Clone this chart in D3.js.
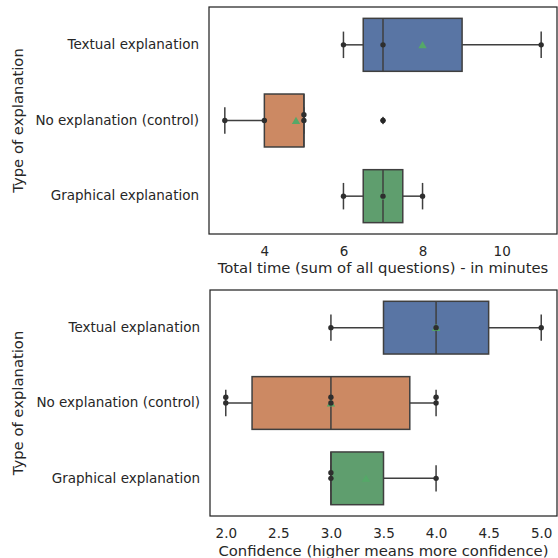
<!DOCTYPE html>
<html>
<head>
<meta charset="utf-8">
<script src="https://cdn.jsdelivr.net/npm/d3@7"></script>
<style>
  body { margin: 0; background: #fff; }
  text { font-family: "DejaVu Sans", sans-serif; fill: #262626; }
</style>
</head>
<body>
<svg id="chart" width="558" height="558"></svg>
<script>
const categories = ['Textual explanation', 'No explanation (control)', 'Graphical explanation'];
const boxColors = ['#5975a4', '#cc8963', '#5f9e6e'];

// raw answers per group
const timeValues = [[6, 7, 11], [3, 4, 5, 5, 7], [6, 7, 8]];
const confidenceValues = [[3, 4, 5], [2, 2, 3, 3, 4, 4], [3, 3, 4]];

const timeTicks = [4, 6, 8, 10];
const confidenceTicks = [2.0, 2.5, 3.0, 3.5, 4.0, 4.5, 5.0];

const timeLabel = 'Total time (sum of all questions) - in minutes';
const confidenceLabel = 'Confidence (higher means more confidence)';
const yLabel = 'Type of explanation';

const svg = d3.select('svg#chart');

const boxStats = values => {
  const v = values.slice().sort(d3.ascending);
  const q1 = d3.quantile(v, 0.25);
  const med = d3.quantile(v, 0.5);
  const q3 = d3.quantile(v, 0.75);
  const iqr = q3 - q1;
  const isIn = d => d >= q1 - 1.5 * iqr && d <= q3 + 1.5 * iqr;
  const inside = v.filter(isIn);
  return {
    q1, med, q3,
    lo: d3.min(inside),
    hi: d3.max(inside),
    mean: d3.mean(v),
    fliers: v.filter(d => !isIn(d))
  };
};

const drawPanel = ({ values, ticks, fmt, label, left, top, right, bottom, labelY }) => {
  const all = values.flat();
  const [mn, mx] = d3.extent(all);
  const pad = (mx - mn) * 0.05;
  const x = d3.scaleLinear().domain([mn - pad, mx + pad]).range([left, right]);
  const y = d3.scaleBand().domain(categories).range([top, bottom])
    .paddingInner(0.3).paddingOuter(0.15);
  const bw = y.bandwidth();
  const cy = c => y(c) + bw / 2;

  const g = svg.append('g');
  const rows = categories.map((c, i) => ({ c, i, s: boxStats(values[i]), v: values[i] }));

  // whiskers
  g.append('g')
    .selectAll('line')
    .data(rows.flatMap(r => [[r.s.lo, r.s.q1, r.c], [r.s.q3, r.s.hi, r.c]]))
    .enter()
    .append('line')
    .attr('x1', d => x(d[0]))
    .attr('x2', d => x(d[1]))
    .attr('y1', d => cy(d[2]))
    .attr('y2', d => cy(d[2]))
    .attr('stroke', '#3f3f3f')
    .attr('stroke-width', 1.5);

  // caps
  g.append('g')
    .selectAll('line')
    .data(rows.flatMap(r => [[r.s.lo, r.c], [r.s.hi, r.c]]))
    .enter()
    .append('line')
    .attr('x1', d => x(d[0]))
    .attr('x2', d => x(d[0]))
    .attr('y1', d => cy(d[1]) - bw / 4)
    .attr('y2', d => cy(d[1]) + bw / 4)
    .attr('stroke', '#3f3f3f')
    .attr('stroke-width', 1.5);

  // boxes
  g.append('g')
    .selectAll('rect')
    .data(rows)
    .enter()
    .append('rect')
    .attr('x', d => x(d.s.q1))
    .attr('width', d => x(d.s.q3) - x(d.s.q1))
    .attr('y', d => y(d.c))
    .attr('height', bw)
    .attr('fill', d => boxColors[d.i])
    .attr('stroke', '#3f3f3f')
    .attr('stroke-width', 1.5);

  // medians
  g.append('g')
    .selectAll('line')
    .data(rows)
    .enter()
    .append('line')
    .attr('x1', d => x(d.s.med))
    .attr('x2', d => x(d.s.med))
    .attr('y1', d => y(d.c))
    .attr('y2', d => y(d.c) + bw)
    .attr('stroke', '#3f3f3f')
    .attr('stroke-width', 1.5);

  // means
  g.append('g')
    .selectAll('path')
    .data(rows)
    .enter()
    .append('path')
    .attr('d', d3.symbol(d3.symbolTriangle).size(30))
    .attr('fill', '#55a868')
    .attr('transform', d => `translate(${x(d.s.mean)},${cy(d.c) + 1})`);

  // swarm dots - duplicates stack upwards
  const dots = rows.flatMap(r => r.v.map((val, j) => ({
    val, c: r.c, k: r.v.slice(0, j).filter(o => o === val).length
  })));
  g.append('g')
    .selectAll('circle')
    .data(dots)
    .enter()
    .append('circle')
    .attr('cx', d => x(d.val))
    .attr('cy', d => cy(d.c) - d.k * 5.7)
    .attr('r', 2.7)
    .attr('fill', '#2e2e2e');

  // fliers
  g.append('g')
    .selectAll('path')
    .data(rows.flatMap(r => r.s.fliers.map(f => [f, r.c])))
    .enter()
    .append('path')
    .attr('d', 'M0,-4L2.8,0L0,4L-2.8,0Z')
    .attr('fill', '#262626')
    .attr('transform', d => `translate(${x(d[0])},${cy(d[1])})`);

  // frame
  g.append('rect')
    .attr('x', left)
    .attr('y', top)
    .attr('width', right - left)
    .attr('height', bottom - top)
    .attr('fill', 'none')
    .attr('stroke', '#262626')
    .attr('stroke-width', 1.25);

  const xAxis = g.append('g')
    .attr('transform', `translate(0,${bottom})`)
    .call(d3.axisBottom(x).tickValues(ticks).tickSize(0).tickPadding(12).tickFormat(fmt));
  xAxis.select('.domain').remove();
  xAxis.selectAll('text').attr('font-size', 13.5).attr('font-family', null);

  const yAxis = g.append('g')
    .attr('transform', `translate(${left},0)`)
    .call(d3.axisLeft(y).tickSize(0).tickPadding(10));
  yAxis.select('.domain').remove();
  yAxis.selectAll('text').attr('font-size', 13.5).attr('font-family', null);

  g.append('text')
    .attr('x', (left + right) / 2)
    .attr('y', labelY)
    .attr('text-anchor', 'middle')
    .attr('font-size', 14.8)
    .text(label);

  g.append('text')
    .attr('transform', `translate(22.5,${(top + bottom) / 2}) rotate(-90)`)
    .attr('text-anchor', 'middle')
    .attr('font-size', 14.8)
    .text(yLabel);
};

drawPanel({
  values: timeValues, ticks: timeTicks, fmt: d3.format('d'), label: timeLabel,
  left: 209, top: 7, right: 557, bottom: 234, labelY: 273.3
});

drawPanel({
  values: confidenceValues, ticks: confidenceTicks, fmt: d3.format('.1f'), label: confidenceLabel,
  left: 210, top: 290, right: 557, bottom: 516, labelY: 556
});
</script>
</body>
</html>
